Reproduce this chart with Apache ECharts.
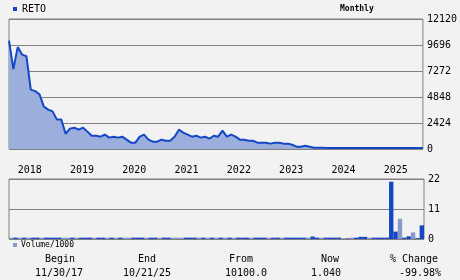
<!DOCTYPE html>
<html>
<head>
<meta charset="utf-8">
<script src="https://cdn.jsdelivr.net/npm/echarts@6/dist/echarts.min.js"></script>
<style>
html,body{margin:0;padding:0;background:#f2f2f2;}
#c{width:460px;height:280px;}
</style>
</head>
<body>
<div id="c"></div>
<script>
// ---- data ----
var ticker = 'RETO';
var startYear = 2017, startMonth = 11; // first monthly point: Nov 2017
var priceTicks = [0, 2424, 4848, 7272, 9696, 12120];
var volTicks = [0, 11, 22];
var years = ['2018','2019','2020','2021','2022','2023','2024','2025'];
var price = [
  10100, 7450, 9500, 8800, 8650, 5540, 5400, 5100, 3950, 3670,
  3510, 2740, 2740, 1420, 1900, 1990, 1800, 1990, 1620, 1240,
  1240, 1150, 1340, 1060, 1150, 1060, 1150, 870, 590, 590,
  1150, 1340, 870, 680, 680, 870, 770, 770, 1150, 1800,
  1520, 1340, 1150, 1240, 1060, 1150, 960, 1240, 1150, 1710,
  1150, 1340, 1150, 870, 870, 770, 770, 590, 590, 590,
  500, 590, 590, 500, 500, 400, 215, 215, 310, 215,
  120, 110, 105, 100, 100, 95, 95, 95, 90, 90,
  90, 90, 90, 90, 90, 90, 90, 90, 90, 90,
  90, 90, 90, 90, 90, 90
];
var volume = [
  0.5, 0.5, 0.5, 0.5, 0.5, 0.5, 0.5, 0.5, 0.5, 0.5,
  0.5, 0.5, 0.5, 0.5, 0.5, 0.5, 0.5, 0.5, 0.5, 0.5,
  0.5, 0.5, 0.5, 0.5, 0.5, 0.5, 0.5, 0.5, 0.5, 0.5,
  0.5, 0.5, 0.5, 0.5, 0.5, 0.5, 0.5, 0.5, 0.5, 0.5,
  0.5, 0.5, 0.5, 0.5, 0.5, 0.5, 0.5, 0.5, 0.5, 0.5,
  0.5, 0.5, 0.5, 0.5, 0.5, 0.5, 0.5, 0.5, 0.5, 0.5,
  0.5, 0.5, 0.5, 0.5, 0.5, 0.5, 0.5, 0.5, 0.5, 0.9,
  0.5, 0.5, 0.5, 0.5, 0.5, 0.5, 0.2, 0.2, 0.5, 0.5,
  0.8, 0.8, 0.5, 0.5, 0.5, 0.5, 0.5, 21.0, 2.7, 7.4,
  0.5, 1.0, 2.4, 0.3, 5.0
];
// 'b' = dark bar, 'g' = light bar
var volShade = 'gbgbgbbgbbbbggbgbbbgbbgbgbggbbbgbbgbbgggbbbgbgbgbgbgbbbgbbbgbbgbbbbbgbbgbbbbgbgbbbgbbbbbbgbbgbb';

// ---- build ----
var months = [];
for (var i = 0; i < price.length; i++) {
  var m = startMonth - 1 + i;
  var y = startYear + Math.floor(m / 12);
  var mm = (m % 12) + 1;
  months.push(y + '-' + (mm < 10 ? '0' + mm : mm));
}
var volCats = months.slice(0, volume.length);
var dark = '#1447c6', light = '#8899c8';
var volData = volume.map(function (v, i) {
  return { value: v, itemStyle: { color: volShade.charAt(i) === 'g' ? light : dark } };
});

var mono = 'DejaVu Sans Mono';
var chart = echarts.init(document.getElementById('c'), null, { renderer: 'canvas' });

function txt(x, y, s, size, align, bold) {
  return { type: 'text', x: x, y: y,
    style: { text: s, font: (bold ? 'bold ' : '') + size + 'px "' + mono + '"', fill: '#000',
      textAlign: align || 'left', textVerticalAlign: 'middle' } };
}
function plain(v) { return String(v); }

chart.setOption({
  backgroundColor: '#f2f2f2',
  animation: false,
  grid: [
    { left: 9, top: 19, width: 415, height: 130, show: true, borderColor: '#808080', borderWidth: 1, backgroundColor: '#f2f2f2' },
    { left: 9, top: 179, width: 415, height: 60, show: true, borderColor: '#808080', borderWidth: 1, backgroundColor: '#f2f2f2' }
  ],
  xAxis: [
    { type: 'category', gridIndex: 0, data: months, boundaryGap: false,
      axisLine: { show: false }, axisTick: { show: false }, splitLine: { show: false },
      axisLabel: { interval: function (idx, val) { return val.slice(5) === '01' && years.indexOf(val.slice(0, 4)) >= 0; },
        formatter: function (val) { return val.slice(0, 4); },
        align: 'left', margin: 16, fontFamily: mono, fontSize: 10, color: '#000' } },
    { type: 'category', gridIndex: 1, data: volCats, boundaryGap: true,
      axisLine: { show: false }, axisTick: { show: false }, axisLabel: { show: false }, splitLine: { show: false } }
  ],
  yAxis: [
    { type: 'value', gridIndex: 0, position: 'right', min: priceTicks[0], max: priceTicks[priceTicks.length - 1], interval: priceTicks[1] - priceTicks[0],
      axisLine: { show: false }, axisTick: { show: false },
      splitLine: { lineStyle: { color: '#808080', width: 1 } },
      axisLabel: { margin: 4, fontFamily: mono, fontSize: 10, color: '#000', formatter: plain } },
    { type: 'value', gridIndex: 1, position: 'right', min: volTicks[0], max: volTicks[volTicks.length - 1], interval: volTicks[1] - volTicks[0],
      axisLine: { show: false }, axisTick: { show: false },
      splitLine: { lineStyle: { color: '#808080', width: 1 } },
      axisLabel: { margin: 4, fontFamily: mono, fontSize: 10, color: '#000', formatter: plain } }
  ],
  series: [
    { type: 'line', name: ticker, xAxisIndex: 0, yAxisIndex: 0, data: price, showSymbol: false, symbol: 'none',
      lineStyle: { color: dark, width: 2 }, areaStyle: { color: '#9cafdc', opacity: 1 } },
    { type: 'bar', name: 'Volume/1000', xAxisIndex: 1, yAxisIndex: 1, data: volData, barWidth: '100%', barCategoryGap: 0 }
  ],
  graphic: [
    { type: 'rect', shape: { x: 13, y: 7, width: 4, height: 4 }, style: { fill: dark } },
    txt(22, 9, ticker, 10, 'left'),
    txt(340, 9, 'Monthly', 8, 'left', true),
    { type: 'rect', shape: { x: 13, y: 243, width: 4, height: 4 }, style: { fill: light } },
    txt(21, 245, 'Volume/1000', 8, 'left'),
    txt(60, 259, 'Begin', 10, 'center'),
    txt(59, 273, '11/30/17', 10, 'center'),
    txt(147, 259, 'End', 10, 'center'),
    txt(147, 273, '10/21/25', 10, 'center'),
    txt(241, 259, 'From', 10, 'center'),
    txt(246, 273, '10100.0', 10, 'center'),
    txt(330, 259, 'Now', 10, 'center'),
    txt(326, 273, '1.040', 10, 'center'),
    txt(414, 259, '% Change', 10, 'center'),
    txt(420, 273, '-99.98%', 10, 'center')
  ]
});
</script>
</body>
</html>
